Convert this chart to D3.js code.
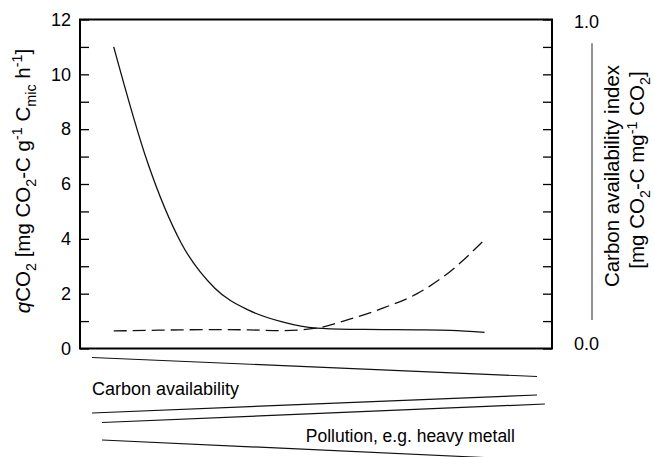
<!DOCTYPE html>
<html>
<head>
<meta charset="utf-8">
<script src="https://cdn.jsdelivr.net/npm/d3@7"></script>
<style>
  html, body { margin: 0; padding: 0; background: #fff; }
  svg { display: block; }
  text { font-family: "Liberation Sans", Arial, Helvetica, sans-serif; fill: #000; }
</style>
</head>
<body>
<svg id="chart" width="655" height="457"></svg>
<script>
// ---- data ----
const positions = [1, 2, 3, 4, 5, 6, 7, 8, 9, 10, 11, 12];           // gradient position (arbitrary units)
const qCO2 = [11.0, 6.8, 3.85, 2.2, 1.4, 0.97, 0.74, 0.70, 0.69, 0.68, 0.66, 0.59];   // solid line, left axis
const carbonIndex = [0.64, 0.66, 0.68, 0.69, 0.68, 0.65, 0.74, 1.07, 1.48, 2.0, 2.83, 3.97]; // dashed line (in left-axis units)
const leftTicks = [0, 2, 4, 6, 8, 10, 12];
const leftMinorTicks = [0, 1, 2, 3, 4, 5, 6, 7, 8, 9, 10, 11, 12];
const rightTickLabels = ["0.0", "1.0"];
const bottomLabels = ["Carbon availability", "Pollution, e.g. heavy metall"];

// ---- layout ----
const svg = d3.select("#chart");
const mLeft = 80, mRight = 552, mTop = 19.5, mBottom = 348.5;
const x = d3.scaleLinear().domain([0, 14]).range([mLeft, mRight]);
const y = d3.scaleLinear().domain([0, 12]).range([mBottom, mTop]);
const yR = d3.scaleLinear().domain([0, 1]).range([mBottom, mTop]);

// frame
svg.append("rect")
  .attr("x", mLeft).attr("y", mTop)
  .attr("width", mRight - mLeft).attr("height", mBottom - mTop)
  .attr("fill", "none").attr("stroke", "#000").attr("stroke-width", 2);

// left axis ticks (inward) + labels
const leftAxis = d3.axisRight(y).tickValues(leftMinorTicks).tickSize(9).tickFormat("");
const gL = svg.append("g").attr("transform", `translate(${mLeft},0)`).call(leftAxis);
gL.select(".domain").remove();
gL.selectAll("line").attr("stroke", "#000").attr("stroke-width", 1.3);

const rightInner = d3.axisLeft(y).tickValues(leftMinorTicks).tickSize(9).tickFormat("");
const gRi = svg.append("g").attr("transform", `translate(${mRight},0)`).call(rightInner);
gRi.select(".domain").remove();
gRi.selectAll("line").attr("stroke", "#000").attr("stroke-width", 1.3);

svg.append("g").selectAll("text").data(leftTicks).join("text")
  .attr("x", 71).attr("y", d => y(d)).attr("dy", "0.35em")
  .attr("text-anchor", "end").attr("font-size", 18).text(d => d);

// right axis (gray line + end labels)
svg.append("line")
  .attr("x1", 592).attr("x2", 592)
  .attr("y1", yR(0.928)).attr("y2", yR(0.087))
  .attr("stroke", "#777").attr("stroke-width", 1.6);
svg.append("g").selectAll("text").data(rightTickLabels).join("text")
  .attr("x", 574).attr("y", (d, i) => yR(+d) + (i === 0 ? -5 : 2)).attr("dy", "0.35em")
  .attr("text-anchor", "start").attr("font-size", 18).text(d => d);

// rich-text helper
function rich(sel, parts, fs, supK = 0.4) {
  let shift = 0;
  parts.forEach(p => {
    const target = p.s === "sub" ? fs * 0.28 : p.s === "sup" ? -fs * supK : 0;
    const ts = sel.append("tspan").text(p.t).attr("dy", target - shift);
    if (p.s) ts.attr("font-size", fs * 0.7);
    if (p.i) ts.attr("font-style", "italic");
    shift = target;
  });
}

// left title
const tl = svg.append("text").attr("transform", "translate(30,181) rotate(-90)")
  .attr("text-anchor", "middle").attr("font-size", 20.5);
rich(tl, [
  {t: "q", i: true}, {t: "CO"}, {t: "2", s: "sub"}, {t: " [mg CO"}, {t: "2", s: "sub"},
  {t: "-C g"}, {t: "-1", s: "sup"}, {t: " C"}, {t: "mic", s: "sub"}, {t: " h"}, {t: "-1", s: "sup"}, {t: "]"}
], 20.5);

// right title
const tr1 = svg.append("text").attr("transform", "translate(619,176) rotate(-90)")
  .attr("text-anchor", "middle").attr("font-size", 20.5);
rich(tr1, [{t: "Carbon availability index"}], 20.5);
const tr2 = svg.append("text").attr("transform", "translate(644,170) rotate(-90)")
  .attr("text-anchor", "middle").attr("font-size", 20.5);
rich(tr2, [
  {t: "[mg CO"}, {t: "2", s: "sub"}, {t: "-C mg"}, {t: "-1", s: "sup"}, {t: " CO"}, {t: "2", s: "sub"}, {t: "]"}
], 20.5, 0.33);

// data lines
const lineGen = d3.line().x(d => x(d[0])).y(d => y(d[1])).curve(d3.curveMonotoneX);
svg.append("path")
  .datum(positions.map((p, i) => [p, qCO2[i]]))
  .attr("d", lineGen).attr("fill", "none").attr("stroke", "#111").attr("stroke-width", 1.3);
svg.append("path")
  .datum(positions.map((p, i) => [p, carbonIndex[i]]))
  .attr("d", lineGen).attr("fill", "none").attr("stroke", "#111").attr("stroke-width", 1.3)
  .attr("stroke-dasharray", "13,6");

// gradient wedges below the plot
const wedges = [
  [[0.356, 9], [13.556, 28]],
  [[0.356, 64.5], [13.556, 46.5]],
  [[0.653, 74], [13.79, 55.5]],
  [[0.653, 91.5], [12.0, 109]]
];
svg.append("g").selectAll("line").data(wedges).join("line")
  .attr("x1", d => x(d[0][0])).attr("y1", d => mBottom + d[0][1])
  .attr("x2", d => x(d[1][0])).attr("y2", d => mBottom + d[1][1])
  .attr("stroke", "#111").attr("stroke-width", 1.2);

svg.append("text").attr("x", x(0.356)).attr("y", mBottom + 46.5)
  .attr("font-size", 18).text(bottomLabels[0]);
svg.append("text").attr("x", x(12.9)).attr("y", mBottom + 93.5)
  .attr("text-anchor", "end").attr("font-size", 17.5).text(bottomLabels[1]);
</script>
</body>
</html>
